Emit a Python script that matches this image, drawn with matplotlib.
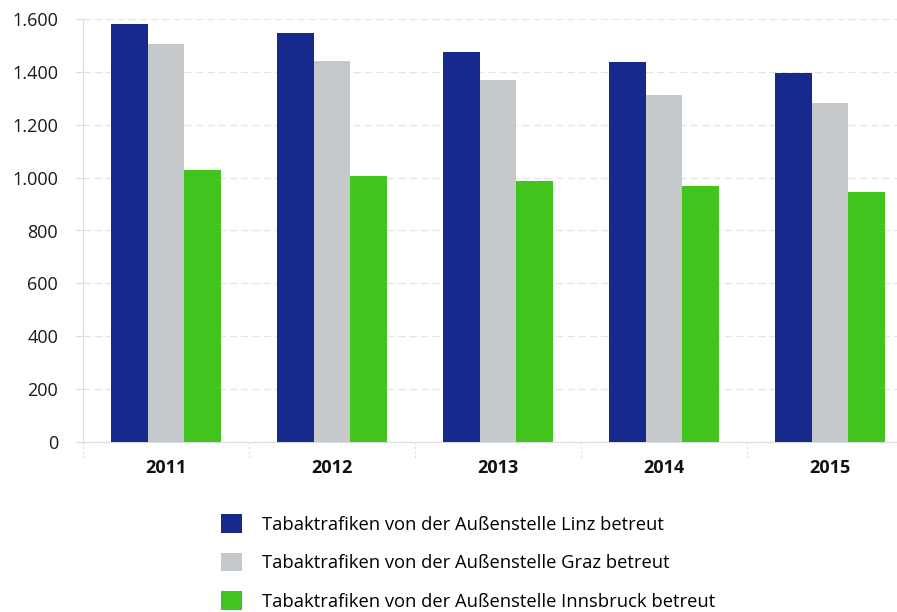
import matplotlib
matplotlib.use("Agg")
import matplotlib.pyplot as plt
import numpy as np

years = ["2011", "2012", "2013", "2014", "2015"]
linz = [1580, 1547, 1475, 1436, 1394]
graz = [1506, 1441, 1369, 1312, 1283]
innsbruck = [1029, 1006, 987, 969, 947]
labels = ["Tabaktrafiken von der Außenstelle Linz betreut",
          "Tabaktrafiken von der Außenstelle Graz betreut",
          "Tabaktrafiken von der Außenstelle Innsbruck betreut"]
colors = ["#16298c", "#c6c9cb", "#41c41d"]
yticks = [0, 200, 400, 600, 800, 1000, 1200, 1400, 1600]
ytick_labels = ["0", "200", "400", "600", "800", "1.000", "1.200", "1.400", "1.600"]

plt.rcParams['font.family'] = ['Open Sans', 'DejaVu Sans']

W, H = 897, 612
fig = plt.figure(figsize=(W/100, H/100), dpi=100)
left, right, bottom, top = 83, 913, 442, 19
ax = fig.add_axes([left/W, (H-bottom)/H, (right-left)/W, (bottom-top)/H])

x = np.arange(len(years))
bw = 0.22
series = [linz, graz, innsbruck]
for i, (vals, c, lab) in enumerate(zip(series, colors, labels)):
    ax.bar(x + (i-1)*bw, vals, width=bw, color=c, label=lab, zorder=3)

ax.set_xlim(-0.5, len(years)-0.5)
ax.set_ylim(0, 1600)
ax.set_yticks(yticks)
ax.set_yticklabels(ytick_labels, fontsize=13, color="#1a1a1a")
ax.set_xticks(x)
ax.set_xticklabels(years, fontsize=13, fontweight="bold", color="#111111")
ax.tick_params(axis="x", length=0, pad=12)
ax.tick_params(axis="y", length=5, color="#d8d8d8", pad=13)
ax.grid(axis="y", color="#e4e4e4", linestyle=(0, (6, 3)), linewidth=0.9, zorder=0)
for s in ["top", "right"]:
    ax.spines[s].set_visible(False)
ax.spines["left"].set_color("#dddddd")
ax.spines["bottom"].set_color("#dddddd")
# category separator ticks below axis
for b in np.arange(-0.5, len(years)+0.5, 1.0):
    ax.plot([b, b], [0, -60], color="#dddddd", lw=0.8, linestyle=(0, (2, 2)), clip_on=False)

handles, labs = ax.get_legend_handles_labels()
fig.legend(handles, labs, loc="upper left", bbox_to_anchor=(214/W, 1-507/H),
           frameon=False, fontsize=13.2, handlelength=1.15, handleheight=1.15,
           labelspacing=1.05, handletextpad=1.05, borderaxespad=0)

fig.savefig("out.png", dpi=100)
